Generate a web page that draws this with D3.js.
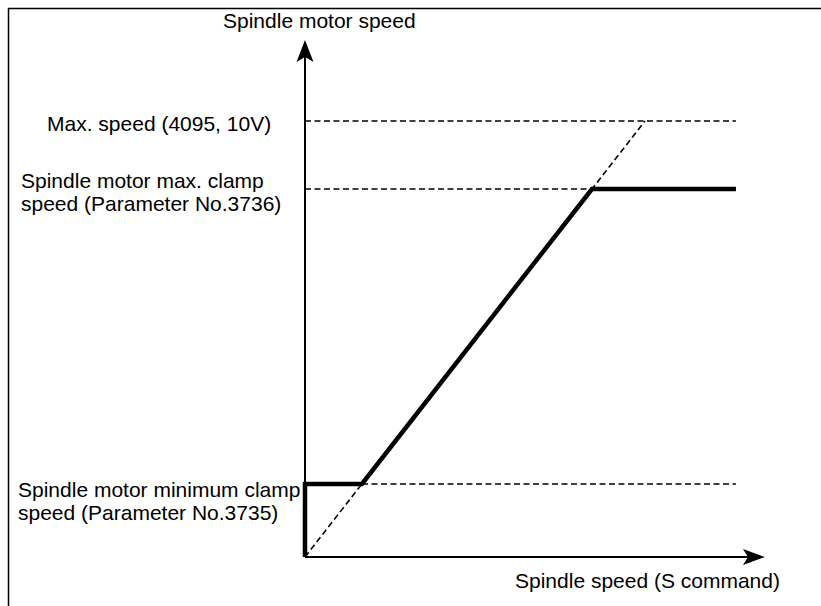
<!DOCTYPE html>
<html>
<head>
<meta charset="utf-8">
<script src="https://cdn.jsdelivr.net/npm/d3@7"></script>
<style>
  html, body { margin: 0; padding: 0; background: #fff; }
  svg { display: block; }
  text { font-family: Arial, "Liberation Sans", sans-serif; font-size: 21px; fill: #000; }
</style>
</head>
<body>
<svg id="chart" width="821" height="606"></svg>
<script>
// S command (x) and spindle motor speed (y), both in command units (0..4095 = 0..10V)
const commandPoints = [0, 0, 686, 3456, 5190];      // clamped output curve, x
const motorPoints   = [0, 686, 686, 3456, 3456];    // clamped output curve, y
const guideLevels   = [4095, 3456, 686];            // max speed, max clamp, min clamp
const guideEnd      = 5190;                          // right end of guide lines
const unclampedLine = [0, 4095];                     // y = x reference line
const axisMax       = { x: 5540, y: 4855 };

const levelLabels = [
  ["Max. speed (4095, 10V)"],
  ["Spindle motor max. clamp", "speed (Parameter No.3736)"],
  ["Spindle motor minimum clamp", "speed (Parameter No.3735)"]
];
const yAxisTitle = "Spindle motor speed";
const xAxisTitle = "Spindle speed (S command)";

const svg = d3.select("#chart");

const x = d3.scaleLinear().domain([0, 4095]).range([305, 645]);
const y = d3.scaleLinear().domain([0, 4095]).range([557, 121]);

// frame (left and top edges)
svg.append("path")
  .attr("d", "M8.5,606 V8.5 H821")
  .attr("fill", "none").attr("stroke", "#000").attr("stroke-width", 1.5);

// dashed guides
const dash = "6,3.5";
svg.selectAll("line.guide").data(guideLevels).enter().append("line")
  .attr("class", "guide")
  .attr("x1", x(0)).attr("x2", x(guideEnd))
  .attr("y1", d => y(d)).attr("y2", d => y(d))
  .attr("stroke", "#000").attr("stroke-width", 1.6).attr("stroke-dasharray", dash);

svg.append("line")
  .attr("x1", x(unclampedLine[0])).attr("y1", y(unclampedLine[0]))
  .attr("x2", x(unclampedLine[1])).attr("y2", y(unclampedLine[1]))
  .attr("stroke", "#000").attr("stroke-width", 1.6).attr("stroke-dasharray", dash);

// axes
svg.append("line")
  .attr("x1", x(0)).attr("y1", y(0)).attr("x2", x(0)).attr("y2", y(axisMax.y) + 10)
  .attr("stroke", "#000").attr("stroke-width", 2);
svg.append("line")
  .attr("x1", x(0)).attr("y1", y(0)).attr("x2", x(axisMax.x) - 10).attr("y2", y(0))
  .attr("stroke", "#000").attr("stroke-width", 2);

// arrow heads
const yt = [x(0), y(axisMax.y)];
svg.append("path")
  .attr("d", `M${yt[0]},${yt[1]} L${yt[0] + 8.5},${yt[1] + 22} L${yt[0]},${yt[1] + 17} L${yt[0] - 8.5},${yt[1] + 22} Z`)
  .attr("fill", "#000");
const xt = [x(axisMax.x), y(0)];
svg.append("path")
  .attr("d", `M${xt[0]},${xt[1]} L${xt[0] - 22},${xt[1] - 8} L${xt[0] - 17},${xt[1]} L${xt[0] - 22},${xt[1] + 8} Z`)
  .attr("fill", "#000");

// clamped motor speed curve
const curve = d3.line().x(d => x(d[0])).y(d => y(d[1]));
svg.append("path")
  .datum(d3.zip(commandPoints, motorPoints))
  .attr("d", curve)
  .attr("fill", "none").attr("stroke", "#000").attr("stroke-width", 4.5)
  .attr("stroke-linejoin", "miter");

// level labels
const labelPos = [
  { x: 47, dy: [10] },
  { x: 21, dy: [-1, 22] },
  { x: 18, dy: [13, 36] }
];
levelLabels.forEach((lines, i) => {
  lines.forEach((t, j) => {
    svg.append("text")
      .attr("x", labelPos[i].x)
      .attr("y", y(guideLevels[i]) + labelPos[i].dy[j])
      .text(t);
  });
});

// axis titles
svg.append("text").attr("x", 223).attr("y", 28).text(yAxisTitle);
svg.append("text").attr("x", 515).attr("y", 588).text(xAxisTitle);
</script>
</body>
</html>
